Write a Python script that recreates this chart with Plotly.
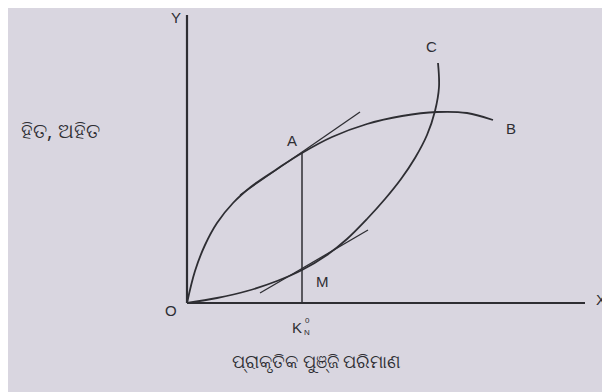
import plotly.graph_objects as go

# curve OB (benefit) and OC (cost)
b_x = [0, 8, 18, 30, 46, 65, 90, 115, 145, 180, 215, 250, 280, 306]
b_y = [0, 32, 58, 80, 100, 117, 134, 150, 166, 179, 187, 191, 190, 183]
c_x = [0, 30, 60, 90, 115, 140, 160, 180, 198, 214, 228, 240, 248, 252, 251]
c_y = [0, 5, 12, 22, 33, 48, 64, 84, 104, 124, 145, 168, 192, 216, 240]

# tangents at A and M
tan_a_x = [53, 173]
tan_a_y = [108, 191]
tan_m_x = [73, 181]
tan_m_y = [10, 73]

k0 = 115
a_y = 150
x_max = 398
y_max = 288

ink = "#2e2e33"
bg = "#d9d6e0"

fig = go.Figure()

curve = dict(color=ink, width=1.8, shape="spline", smoothing=1.0)
fig.add_trace(go.Scatter(x=b_x, y=b_y, mode="lines", line=curve))
fig.add_trace(go.Scatter(x=c_x, y=c_y, mode="lines", line=curve))
fig.add_trace(go.Scatter(x=tan_a_x, y=tan_a_y, mode="lines", line=dict(color=ink, width=1.3)))
fig.add_trace(go.Scatter(x=tan_m_x, y=tan_m_y, mode="lines", line=dict(color=ink, width=1.3)))
fig.add_trace(go.Scatter(x=[k0, k0], y=[0, a_y], mode="lines", line=dict(color=ink, width=1.5)))

# axes
fig.add_trace(go.Scatter(x=[0, x_max], y=[0, 0], mode="lines", line=dict(color=ink, width=2.2)))
fig.add_trace(go.Scatter(x=[0, 0], y=[0, y_max], mode="lines", line=dict(color=ink, width=2.2)))

font = dict(family="Liberation Sans, Arial, sans-serif", size=15, color=ink)
labels = [
    ("Y", -11, 286),
    ("X", 414, 4),
    ("O", -16, -7),
    ("A", 105, 163),
    ("M", 135, 22),
    ("B", 324, 175),
    ("C", 244, 257),
    ("K", 110, -24),
]
for t, x, y in labels:
    fig.add_annotation(x=x, y=y, text=t, showarrow=False, font=font)
small = dict(family="Liberation Sans", size=8, color=ink)
fig.add_annotation(x=120, y=-17, text="0", showarrow=False, font=small)
fig.add_annotation(x=120, y=-29, text="N", showarrow=False, font=small)

fig.add_annotation(x=-127, y=173, text="ହିତ, ଅହିତ", showarrow=False,
                   font=dict(family="Noto Sans, sans-serif", size=20, color=ink))
fig.add_annotation(x=129, y=-58, text="ପ୍ରାକୃତିକ ପୁଞ୍ଜି ପରିମାଣ", showarrow=False,
                   font=dict(family="Noto Sans, sans-serif", size=18, color=ink))

fig.update_xaxes(range=[-179, 431], visible=False)
fig.update_yaxes(range=[-97, 295], visible=False)
fig.update_layout(
    width=610, height=392,
    margin=dict(l=0, r=0, t=0, b=0),
    paper_bgcolor=bg, plot_bgcolor=bg,
    showlegend=False,
)

fig.write_html("out.html")
